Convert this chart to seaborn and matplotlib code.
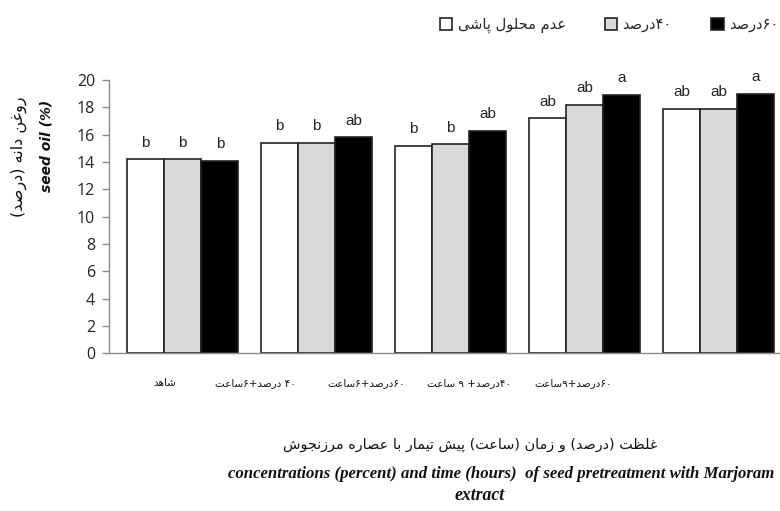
import re
import pandas as pd
import matplotlib
matplotlib.use('Agg')
import matplotlib.pyplot as plt
import seaborn as sns

# data
treatments = ['شاهد', '۴۰ درصد+۶ساعت', '۶۰درصد+۶ساعت', '۴۰درصد+ ۹ ساعت', '۶۰درصد+۹ساعت']
levels = ['عدم محلول پاشی', '۴۰درصد', '۶۰درصد']
oil_none = [14.2, 15.4, 15.2, 17.2, 17.9]
oil_40 = [14.2, 15.4, 15.3, 18.2, 17.9]
oil_60 = [14.1, 15.8, 16.3, 18.9, 19.0]
letters_none = ['b', 'b', 'b', 'ab', 'ab']
letters_40 = ['b', 'b', 'b', 'ab', 'ab']
letters_60 = ['b', 'ab', 'ab', 'a', 'a']
yticks = [0, 2, 4, 6, 8, 10, 12, 14, 16, 18, 20]

ylabel_fa = 'روغن دانه (درصد)'
ylabel_en = 'seed oil (%)'
xlabel_fa = 'غلظت (درصد) و زمان (ساعت) پیش تیمار با عصاره مرزنجوش'
xlabel_en1 = 'concentrations (percent) and time (hours)  of seed pretreatment with Marjoram'
xlabel_en2 = 'extract'

# arabic presentation forms: isolated, final, initial, medial
FORMS = {
    'ا': ('\uFE8D', '\uFE8E', None, None),
    'ب': ('\uFE8F', '\uFE90', '\uFE91', '\uFE92'),
    'پ': ('\uFB56', '\uFB57', '\uFB58', '\uFB59'),
    'ت': ('\uFE95', '\uFE96', '\uFE97', '\uFE98'),
    'ج': ('\uFE9D', '\uFE9E', '\uFE9F', '\uFEA0'),
    'ح': ('\uFEA1', '\uFEA2', '\uFEA3', '\uFEA4'),
    'د': ('\uFEA9', '\uFEAA', None, None),
    'ر': ('\uFEAD', '\uFEAE', None, None),
    'ز': ('\uFEAF', '\uFEB0', None, None),
    'س': ('\uFEB1', '\uFEB2', '\uFEB3', '\uFEB4'),
    'ش': ('\uFEB5', '\uFEB6', '\uFEB7', '\uFEB8'),
    'ص': ('\uFEB9', '\uFEBA', '\uFEBB', '\uFEBC'),
    'ط': ('\uFEC1', '\uFEC2', '\uFEC3', '\uFEC4'),
    'ظ': ('\uFEC5', '\uFEC6', '\uFEC7', '\uFEC8'),
    'ع': ('\uFEC9', '\uFECA', '\uFECB', '\uFECC'),
    'غ': ('\uFECD', '\uFECE', '\uFECF', '\uFED0'),
    'ل': ('\uFEDD', '\uFEDE', '\uFEDF', '\uFEE0'),
    'م': ('\uFEE1', '\uFEE2', '\uFEE3', '\uFEE4'),
    'ن': ('\uFEE5', '\uFEE6', '\uFEE7', '\uFEE8'),
    'ه': ('\uFEE9', '\uFEEA', '\uFEEB', '\uFEEC'),
    'و': ('\uFEED', '\uFEEE', None, None),
    'ی': ('\uFBFC', '\uFBFD', '\uFBFE', '\uFBFF'),
}


def fa(s):
    # shape letters, then put into visual (right-to-left) order
    out = []
    for i, c in enumerate(s):
        if c not in FORMS:
            out.append(c)
            continue
        prev = s[i - 1] if i > 0 else ''
        nxt = s[i + 1] if i < len(s) - 1 else ''
        jp = prev in FORMS and FORMS[prev][2] is not None
        jn = FORMS[c][2] is not None and nxt in FORMS
        if jp and jn:
            out.append(FORMS[c][3])
        elif jp:
            out.append(FORMS[c][1])
        elif jn:
            out.append(FORMS[c][2])
        else:
            out.append(FORMS[c][0])
    tokens = re.findall(r'[0-9۰-۹]+|.', ''.join(out))
    mirror = {'(': ')', ')': '('}
    return ''.join(mirror.get(t, t) for t in reversed(tokens))


rows = []
for vals, lev in zip([oil_none, oil_40, oil_60], levels):
    for t, v in zip(treatments, vals):
        rows.append({'treatment': fa(t), 'level': fa(lev), 'oil': v})
df = pd.DataFrame(rows)

sns.set_style('ticks')
plt.rcParams['font.family'] = ['DejaVu Sans']

W, H = 780, 511
fig = plt.figure(figsize=(W / 100, H / 100), dpi=100)
ax = fig.add_axes([109 / W, 157.7 / H, 676.7 / W, 273.3 / H])

sns.barplot(data=df, x='treatment', y='oil', hue='level',
            palette=['white', '#d9d9d9', 'black'], edgecolor='#222222',
            linewidth=1.2, width=0.83, gap=0, saturation=1, ax=ax)

ax.set_xlim(-0.55, 4.5)
ax.set_ylim(0, 20)
ax.set_yticks(yticks)
ax.set_xticks([])
ax.set_xlabel('')
ax.set_ylabel('')
sns.despine(ax=ax)
for sp in ['left', 'bottom']:
    ax.spines[sp].set_color('#8c8c8c')
    ax.spines[sp].set_linewidth(1.0)
ax.tick_params(axis='y', colors='#8c8c8c', labelcolor='#222222', length=5,
               width=1.0, pad=5, labelsize=11.5)
for lab in ax.get_yticklabels():
    lab.set_family('Open Sans')

for cont, labs in zip(ax.containers, [letters_none, letters_40, letters_60]):
    ax.bar_label(cont, labels=labs, padding=7, fontsize=11,
                 family='Liberation Sans', color='#222222')

# x tick labels (sit offset from the bar groups in the reference)
label_x = [165, 255, 366, 469, 573]
for px, t in zip(label_x, treatments):
    fig.text(px / W, 1 - 383 / H, fa(t), ha='center', va='center',
             fontsize=7.5, color='#111111')

h, l = ax.get_legend_handles_labels()
ax.legend(h, l, loc='center left', bbox_to_anchor=(440 / W, 1 - 25 / H),
          bbox_transform=fig.transFigure, ncol=3, frameon=False,
          borderpad=0, borderaxespad=0,
          handlelength=0.85, handleheight=0.85, handletextpad=0.35,
          columnspacing=2.7, fontsize=10.5)

fig.text(46 / W, 1 - 146 / H, ylabel_en, rotation=90, ha='center', va='center',
         fontsize=10, fontweight='bold', fontstyle='italic', color='#111111')
fig.text(19 / W, 1 - 157 / H, fa(ylabel_fa), rotation=90, ha='center',
         va='center', fontsize=11.5, color='#111111')

fig.text(470 / W, 1 - 445 / H, fa(xlabel_fa), ha='center', va='center',
         fontsize=10.4, color='#111111')
fig.text(228 / W, 1 - 474 / H, xlabel_en1, ha='left', va='center',
         fontsize=12.1, family='Liberation Serif', fontweight='bold',
         fontstyle='italic', color='#111111')
fig.text(480 / W, 1 - 495 / H, xlabel_en2, ha='center', va='center',
         fontsize=12.8, family='Liberation Serif', fontweight='bold',
         fontstyle='italic', color='#111111')

fig.savefig('out.png', dpi=100)
